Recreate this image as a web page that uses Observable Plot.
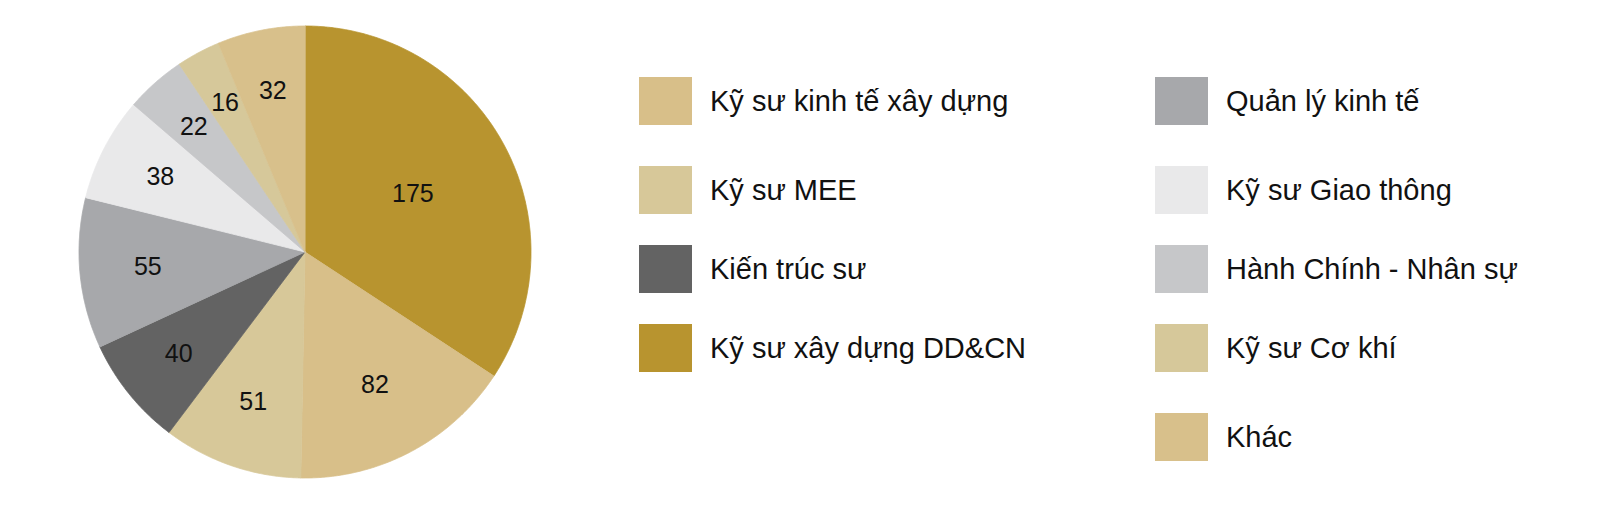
<!DOCTYPE html>
<html>
<head>
<meta charset="utf-8">
<script src="https://cdn.jsdelivr.net/npm/d3@7"></script>
<script src="https://cdn.jsdelivr.net/npm/@observablehq/plot@0.6"></script>
<style>
  html, body { margin: 0; padding: 0; background: #fff; }
  #wrap { position: relative; width: 1600px; height: 505px; font-family: "Liberation Sans", Arial, sans-serif; }
  #chart { position: absolute; left: 0; top: 0; }
  #legend {
    position: absolute; left: 639px; top: 56.5px;
    display: grid; grid-template-columns: 516px auto;
    grid-template-rows: 89px 89px 69px 89px 89px;
    grid-auto-flow: column;
  }
  .item { display: flex; align-items: center; font-size: 29px; line-height: 1; color: #111; white-space: nowrap; }
  .sw { width: 53px; height: 48px; margin-right: 18px; flex: none; }
  .col1 { grid-column: 1; }
  .col2 { grid-column: 2; }
</style>
</head>
<body>
<div id="wrap">
  <div id="chart"></div>
  <div id="legend"></div>
</div>
<script>
// Categories in legend order
const categories = [
  "Kỹ sư kinh tế xây dựng",
  "Kỹ sư MEE",
  "Kiến trúc sư",
  "Kỹ sư xây dựng DD&CN",
  "Quản lý kinh tế",
  "Kỹ sư Giao thông",
  "Hành Chính - Nhân sự",
  "Kỹ sư Cơ khí",
  "Khác"
];
const values = [82, 51, 40, 175, 55, 38, 22, 16, 32];
const colors = ["#D8BF89", "#D7C899", "#636363", "#B8942F", "#A7A8AB", "#E9E9EA", "#C6C7C9", "#D6C89A", "#D8C08B"];
// Order of slices clockwise from 12 o'clock
const pieOrder = [
  "Kỹ sư xây dựng DD&CN",
  "Kỹ sư kinh tế xây dựng",
  "Kỹ sư MEE",
  "Kiến trúc sư",
  "Quản lý kinh tế",
  "Kỹ sư Giao thông",
  "Hành Chính - Nhân sự",
  "Kỹ sư Cơ khí",
  "Khác"
];
const legendColumn1 = 4; // first four categories in column 1

const valueOf = new Map(categories.map((c, i) => [c, values[i]]));
const slices = d3.pie().sort(null).value(c => valueOf.get(c))(pieOrder);

// Outline points of each slice in unit-circle data space
const outline = [];
for (const s of slices) {
  const cat = s.data;
  outline.push({cat, x: 0, y: 0});
  const n = Math.max(2, Math.ceil((s.endAngle - s.startAngle) / 0.005));
  for (let k = 0; k <= n; k++) {
    const a = s.startAngle + (s.endAngle - s.startAngle) * k / n;
    outline.push({cat, x: Math.sin(a), y: Math.cos(a)});
  }
}
const labels = slices.map(s => {
  const mid = (s.startAngle + s.endAngle) / 2;
  const r = 0.77 - 0.0013 * s.value;
  return {cat: s.data, v: s.value, x: r * Math.sin(mid), y: r * Math.cos(mid)};
});

const plot = Plot.plot({
  width: 1600,
  height: 505,
  marginLeft: 78.5,
  marginRight: 1069.5,
  marginTop: 25.5,
  marginBottom: 27.5,
  x: {domain: [-1, 1], axis: null},
  y: {domain: [-1, 1], axis: null},
  color: {domain: categories, range: colors},
  style: {background: "white", fontFamily: "Liberation Sans, Arial, sans-serif"},
  marks: [
    Plot.line(outline, {x: "x", y: "y", z: "cat", fill: "cat", stroke: "cat", strokeWidth: 0.8, curve: "linear-closed"}),
    Plot.text(labels, {x: "x", y: "y", text: d => String(d.v), fontSize: 25, fill: "#111"})
  ]
});
document.getElementById("chart").appendChild(plot);

const legend = document.getElementById("legend");
categories.forEach((c, i) => {
  const item = document.createElement("div");
  item.className = "item " + (i < legendColumn1 ? "col1" : "col2");
  const sw = document.createElement("span");
  sw.className = "sw";
  sw.style.background = colors[i];
  const t = document.createElement("span");
  t.textContent = c;
  item.appendChild(sw);
  item.appendChild(t);
  legend.appendChild(item);
});
</script>
</body>
</html>
